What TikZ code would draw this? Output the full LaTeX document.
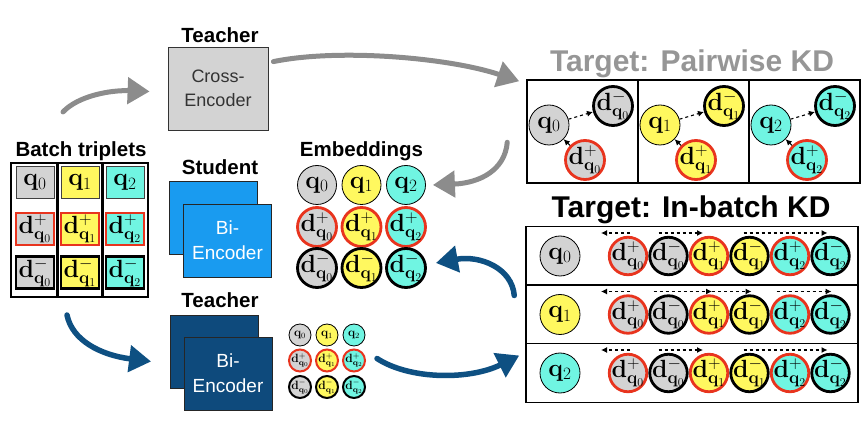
\documentclass[tikz,border=0pt]{standalone}
\usepackage[no-math]{fontspec}
\setmainfont{Liberation Sans}
\usetikzlibrary{arrows.meta, calc}
\definecolor{qgray}{RGB}{211, 211, 211}
\definecolor{qyellow}{RGB}{255, 248, 95}
\definecolor{qcyan}{RGB}{112, 245, 226}
\definecolor{posred}{RGB}{232, 52, 30}
\definecolor{stublue}{RGB}{25, 155, 240}
\definecolor{tchblue}{RGB}{14, 74, 124}
\definecolor{sketchgray}{RGB}{140, 140, 140}
\definecolor{sketchblue}{RGB}{14, 80, 130}
\definecolor{titlegray}{RGB}{150, 150, 150}
\newcommand{\qv}[1]{$\mathbf{q}_{#1}$}
\newcommand{\dpos}[1]{$\mathbf{d}^{+}_{\mathbf{q}_{#1}}$}
\newcommand{\dneg}[1]{$\mathbf{d}^{-}_{\mathbf{q}_{#1}}$}
\tikzset{
  ttl/.style        = {font=\fontsize{20.5}{24}\selectfont\bfseries, inner sep=0pt, anchor=base},
  bigttl/.style     = {font=\fontsize{30}{34}\selectfont\bfseries, inner sep=0pt, anchor=base},
  cellq/.style      = {rectangle, draw=black!75, line width=0.8pt, minimum width=38, minimum height=32, inner sep=-4pt, font=\fontsize{26}{28}\selectfont},
  cellpos/.style    = {cellq, draw=posred, line width=2.6pt},
  cellneg/.style    = {cellq, draw=black, line width=2.6pt},
  gridframe/.style  = {rectangle, draw=black, line width=2pt, minimum width=137, minimum height=134, inner sep=0pt},
  embq/.style       = {circle, draw=black, line width=0.8pt, minimum size=39, inner sep=-6pt, font=\fontsize{24}{26}\selectfont},
  embpos/.style     = {embq, draw=posred, line width=2.8pt},
  embneg/.style     = {embq, draw=black, line width=2.8pt},
  smallq/.style     = {embq, minimum size=22, inner sep=-4pt, font=\fontsize{12}{14}\selectfont},
  smallpos/.style   = {smallq, draw=posred, line width=2pt},
  smallneg/.style   = {smallq, draw=black, line width=2pt},
  panel/.style      = {rectangle, draw=black, line width=1.5pt, minimum width=111, minimum height=103, inner sep=0pt},
  ibrow/.style      = {rectangle, draw=black, line width=1.5pt, minimum width=332, minimum height=58.5, inner sep=0pt},
  crossbox/.style   = {rectangle, draw=black!80, line width=0.8pt, fill=qgray, minimum width=100, minimum height=83, align=center, text=black!80, font=\fontsize{18}{24}\selectfont},
  stubox/.style     = {rectangle, draw=black!85, line width=0.8pt, fill=stublue, minimum width=88, minimum height=73, align=center, text=white, font=\fontsize{19}{25}\selectfont},
  tchbox/.style     = {stubox, fill=tchblue},
  grayflow/.style   = {-{Triangle[length=22pt,width=26pt]}, line width=5pt, sketchgray, line cap=round},
  blueflow/.style   = {-{Triangle[length=22pt,width=26pt]}, line width=5.5pt, sketchblue, line cap=round},
  rankarrow/.style  = {-{Latex[length=6pt,width=6pt]}, dashed, line width=1.1pt, black},
}

\begin{document}
\begin{tikzpicture}[x=1pt, y=-1pt]
  % 边界框
  \useasboundingbox (0,0) rectangle (867,427);

  % Batch triplets
  \node[ttl] (batchttl) at (81,157) {Batch triplets};
  \foreach \i/\c in {0/qgray,1/qyellow,2/qcyan} {
    \node[cellq,   fill=\c] (bq\i) at (35+45*\i,182.5) {\qv{\i}};
    \node[cellpos, fill=\c] (bp\i) at (35+45*\i,229) {\dpos{\i}};
    \node[cellneg, fill=\c] (bn\i) at (35+45*\i,272.5) {\dneg{\i}};
  }
  \node[gridframe] (batch) at (79.5,230) {};
  \draw[line width=3pt] (57.5,163) -- (57.5,297);
  \draw[line width=3pt] (102.5,163) -- (102.5,297);

  % 教师 Cross-Encoder
  \node[ttl] (tchttl) at (220,43) {Teacher};
  \node[crossbox] (cross) at (218,88.5) {Cross-\\Encoder};

  % 学生 Bi-Encoder
  \node[ttl] (stuttl) at (220,175) {Student};
  \node[stubox] (stuback) at (213,218) {};
  \node[stubox] (stufront) at (227.5,240.5) {Bi-\\Encoder};

  % 教师 Bi-Encoder
  \node[ttl] (tch2ttl) at (220,308) {Teacher};
  \node[tchbox] (tchback) at (214.5,351.5) {};
  \node[tchbox] (tchfront) at (228,373.5) {Bi-\\Encoder};

  % Embeddings
  \node[ttl] (embttl) at (361.5,157) {Embeddings};
  \foreach \i/\c in {0/qgray,1/qyellow,2/qcyan} {
    \node[embq,   fill=\c] (emq\i) at (317+44.5*\i,185) {\qv{\i}};
    \node[embpos, fill=\c] (emp\i) at (317+44.5*\i,227) {\dpos{\i}};
    \node[embneg, fill=\c] (emn\i) at (317+44.5*\i,268) {\dneg{\i}};
  }
  \foreach \i/\c in {0/qgray,1/qyellow,2/qcyan} {
    \node[smallq,   fill=\c] (smq\i) at (300+27*\i,335) {\qv{\i}};
    \node[smallpos, fill=\c] (smp\i) at (300+27*\i,360.5) {\dpos{\i}};
    \node[smallneg, fill=\c] (smn\i) at (300+27*\i,387) {\dneg{\i}};
  }

  % Target: Pairwise KD
  \node[bigttl, text=titlegray] (pwttl) at (692,72) {Target: Pairwise KD};
  \foreach \i/\c in {0/qgray,1/qyellow,2/qcyan} {
    \node[panel] (pw\i) at (582.5+111*\i,131.5) {};
    \node[embq,   fill=\c, minimum size=40] (pq\i) at (549+111*\i,125) {\qv{\i}};
    \node[embneg, fill=\c] (pn\i) at (613+111*\i,106) {\dneg{\i}};
    \node[embpos, fill=\c] (pp\i) at (585+111*\i,160) {\dpos{\i}};
    \draw[rankarrow] (pp\i) -- (pq\i);
    \draw[rankarrow] (pq\i) -- (pn\i);
  }

  % Target: In-batch KD
  \node[bigttl] (ibttl) at (691,218) {Target: In-batch KD};
  \foreach \r/\rc/\ry in {0/qgray/256,1/qyellow/314.5,2/qcyan/373} {
    \node[ibrow] (ibrow\r) at (692,\ry) {};
    \node[embq, fill=\rc, minimum size=40] (ibq\r) at (560,\ry) {\qv{\r}};
    \foreach \j/\c in {0/qgray,1/qyellow,2/qcyan} {
      \node[embpos, fill=\c, minimum size=37.5] (ib\r-p\j) at (628+81*\j,\ry) {\dpos{\j}};
      \node[embneg, fill=\c, minimum size=37.5] (ib\r-n\j) at (668.5+81*\j,\ry) {\dneg{\j}};
    }
  }
  \foreach \r in {0,2} {
    \draw[rankarrow] ([xshift=2pt,yshift=23pt]ib\r-p0.center) -- ([xshift=-27pt,yshift=23pt]ib\r-p0.center);
    \draw[rankarrow] ([xshift=-10pt,yshift=23pt]ib\r-n0.center) -- ([xshift=-6pt,yshift=23pt]ib\r-p1.center);
    \draw[rankarrow] ([xshift=-6pt,yshift=23pt]ib\r-n1.center) -- ([xshift=-3pt,yshift=23pt]ib\r-n2.center);
  }
  \draw[rankarrow] ([xshift=2pt,yshift=23pt]ib1-p0.center) -- ([xshift=-27pt,yshift=23pt]ib1-p0.center);
  \draw[rankarrow] ([xshift=-15pt,yshift=23pt]ib1-n0.center) -- ([xshift=3pt,yshift=23pt]ib1-p1.center);
  \draw[rankarrow] ([xshift=3pt,yshift=23pt]ib1-p1.center) -- ([xshift=2pt,yshift=23pt]ib1-n1.center);
  \draw[rankarrow] ([xshift=27pt,yshift=23pt]ib1-n1.center) -- ([xshift=1pt,yshift=23pt]ib1-n2.center);

  % 灰色箭头
  \draw[grayflow] ([xshift=-18pt,yshift=30pt]batchttl.north) .. controls (78,96) and (110,90) .. ([xshift=-18pt,yshift=-3pt]cross.west);
  \draw[grayflow] ([xshift=5pt,yshift=-15pt]cross.north east) .. controls (340,48) and (450,58) .. ([xshift=-7pt,yshift=-2pt]pw0.north west);
  \draw[grayflow] ([xshift=-19pt,yshift=-63pt]pw0.north west) .. controls (505,170) and (480,183) .. ([xshift=7pt]emq2.east);

  % 蓝色箭头
  \draw[blueflow] ([xshift=-12.5pt,yshift=-17pt]batch.south) .. controls (72,340) and (100,355) .. ([xshift=-19pt,yshift=-10pt]tchback.west);
  \draw[blueflow] ([xshift=11pt,yshift=2pt]smp2.east) .. controls (410,380) and (470,380) .. ([xshift=-6pt,yshift=-11pt]ibrow1.south west);
  \draw[blueflow] ([xshift=-11pt,yshift=19pt]ibrow1.west) .. controls (512,268) and (480,255) .. ([xshift=9pt,yshift=5pt]emn2.east);
\end{tikzpicture}
\end{document}
